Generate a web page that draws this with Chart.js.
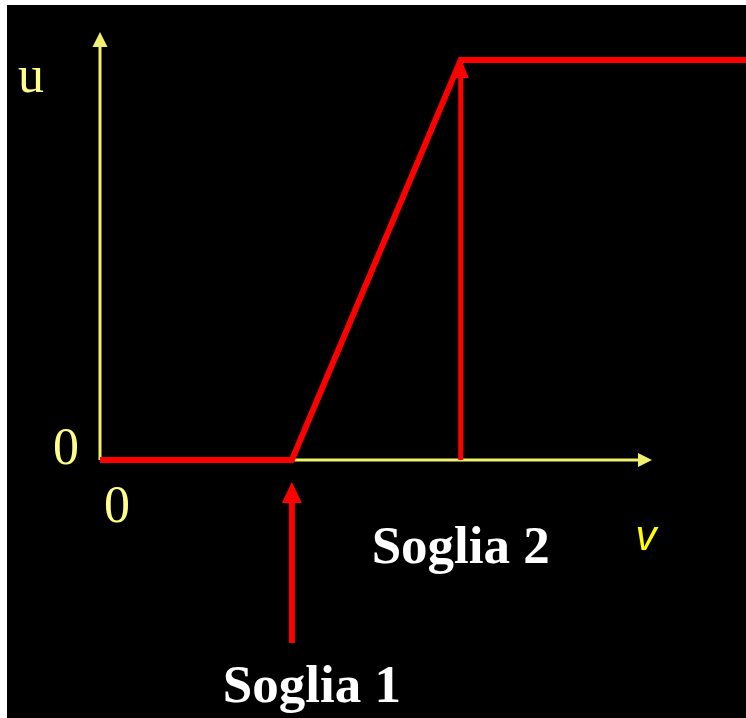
<!DOCTYPE html>
<html>
<head>
<meta charset="utf-8">
<script src="https://cdn.jsdelivr.net/npm/chart.js@4/dist/chart.umd.min.js"></script>
<style>
  html, body { margin: 0; padding: 0; background: #fff; }
  canvas { display: block; }
</style>
</head>
<body>
<canvas id="soglie" width="746" height="718"></canvas>
<script>
// funzione di risposta u(v) a due soglie
const vPunti = [0, 3, 5.64, 10.1];
const uPunti = [0, 0, 1, 1];
const soglieV = [3, 5.64];
const soglieNomi = ['Soglia 1', 'Soglia 2'];
const assiEtichette = { y: 'u', x: 'v', zero: '0' };

const GIALLO = '#f0f070';
const ROSSO = '#ff0000';

function freccia(ctx, x1, y1, x2, y2, w, head, headW, color) {
    const ang = Math.atan2(y2 - y1, x2 - x1);
    const bx = x2 - Math.cos(ang) * head;
    const by = y2 - Math.sin(ang) * head;
    ctx.save();
    ctx.strokeStyle = color;
    ctx.fillStyle = color;
    ctx.lineWidth = w;
    ctx.beginPath();
    ctx.moveTo(x1, y1);
    ctx.lineTo(bx, by);
    ctx.stroke();
    const px = -Math.sin(ang) * headW / 2;
    const py = Math.cos(ang) * headW / 2;
    ctx.beginPath();
    ctx.moveTo(x2, y2);
    ctx.lineTo(bx + px, by + py);
    ctx.lineTo(bx - px, by - py);
    ctx.closePath();
    ctx.fill();
    ctx.restore();
}

const sfondo = {
    id: 'sfondo',
    beforeDraw(chart) {
        const ctx = chart.ctx;
        ctx.save();
        ctx.fillStyle = '#fff';
        ctx.fillRect(0, 0, chart.width, chart.height);
        ctx.fillStyle = '#000';
        ctx.fillRect(7, 5, chart.width - 7, chart.height - 5);
        ctx.restore();
    }
};

// assi gialli con frecce
const assi = {
    id: 'assi',
    beforeDatasetsDraw(chart) {
        const ctx = chart.ctx;
        const x = chart.scales.x, y = chart.scales.y;
        const x0 = x.getPixelForValue(0), y0 = y.getPixelForValue(0);
        freccia(ctx, x0, y0, x0, y.getPixelForValue(1) - 28, 3, 15, 15, GIALLO);
        freccia(ctx, x0, y0, x.getPixelForValue(8.63), y0, 3, 14, 14, GIALLO);
    }
};

const annotazioni = {
    id: 'annotazioni',
    afterDatasetsDraw(chart) {
        const ctx = chart.ctx;
        const x = chart.scales.x, y = chart.scales.y;
        const y0 = y.getPixelForValue(0), y1 = y.getPixelForValue(1);
        const s1 = x.getPixelForValue(soglieV[0]);
        const s2 = x.getPixelForValue(soglieV[1]);

        // frecce rosse delle soglie
        freccia(ctx, s1, y0 + 183, s1, y0 + 22, 6, 21, 20, ROSSO);
        freccia(ctx, s2, y0, s2, y1 - 2, 5, 20, 16, ROSSO);

        ctx.save();
        ctx.textBaseline = 'alphabetic';
        ctx.fillStyle = '#ffff88';
        ctx.font = '52px "Liberation Serif", serif';
        ctx.textAlign = 'left';
        ctx.fillText(assiEtichette.y, 18, 92);
        ctx.fillText(assiEtichette.zero, 53, y0 + 4);
        ctx.textAlign = 'center';
        ctx.fillText(assiEtichette.zero, x.getPixelForValue(0) + 17, y0 + 62);

        ctx.fillStyle = '#ffffff';
        ctx.font = 'bold 53px "Liberation Serif", serif';
        ctx.fillText(soglieNomi[1], s2, y0 + 103);
        ctx.fillText(soglieNomi[0], s1 + 20, y0 + 242);

        ctx.fillStyle = '#ffff00';
        ctx.font = 'italic 42px "Liberation Sans", sans-serif';
        ctx.fillText(assiEtichette.x, 646, y0 + 90);
        ctx.restore();
    }
};

new Chart(document.getElementById('soglie'), {
    type: 'scatter',
    data: {
        datasets: [{
            data: vPunti.map((v, i) => ({ x: v, y: uPunti[i] })),
            showLine: true,
            borderColor: ROSSO,
            borderWidth: 6,
            pointRadius: 0,
            tension: 0,
            clip: 10
        }]
    },
    options: {
        responsive: false,
        devicePixelRatio: 1,
        animation: false,
        layout: { padding: { left: 100, top: 60, right: 0, bottom: 258 } },
        plugins: { legend: { display: false }, tooltip: { enabled: false } },
        scales: {
            x: { type: 'linear', min: 0, max: 10.1, display: false },
            y: { type: 'linear', min: 0, max: 1, display: false }
        }
    },
    plugins: [sfondo, assi, annotazioni]
});
</script>
</body>
</html>
